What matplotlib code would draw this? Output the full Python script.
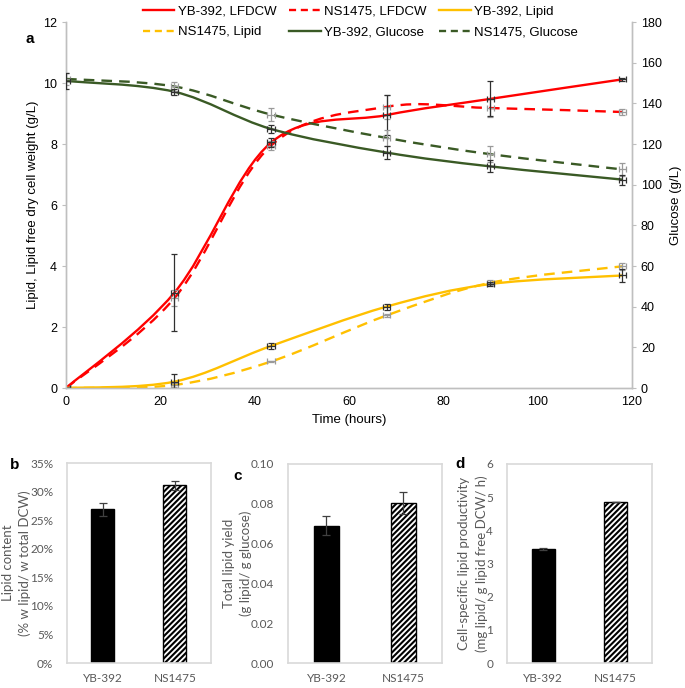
import numpy as np
import matplotlib
matplotlib.use("Agg")
import matplotlib.pyplot as plt
from matplotlib.path import Path
from matplotlib.patches import PathPatch
from matplotlib.lines import Line2D

# ---------------- data ----------------
time_h = [0, 23, 43.5, 68, 90, 118]
yb_lfdcw = [0, 3.13, 8.05, 8.95, 9.48, 10.12]
ns_lfdcw = [0, 2.95, 7.95, 9.22, 9.18, 9.05]
yb_lipid = [0, 0.21, 1.38, 2.67, 3.41, 3.69]
ns_lipid = [0, 0.10, 0.87, 2.38, 3.45, 3.99]
yb_glucose = [151, 145.7, 127.4, 115.8, 109.0, 102.5]
ns_glucose = [152, 148.3, 134.5, 123.0, 115.0, 107.5]

yb_lfdcw_err = [0, 1.26, 0.15, 0.65, 0.57, 0.05]
ns_lfdcw_err = [0, 0.25, 0.15, 0.40, 0.30, 0.10]
yb_lipid_err = [0, 0.25, 0.10, 0.10, 0.05, 0.20]
ns_lipid_err = [0, 0.05, 0.03, 0.05, 0.08, 0.12]
yb_glucose_err = [4, 1.5, 2.0, 3.0, 3.0, 2.5]
ns_glucose_err = [3, 2.0, 3.0, 4.0, 4.0, 3.0]
time_err = 0.8

strains = ["YB-392", "NS1475"]
lipid_content = [26.9, 31.1]
lipid_content_err = [1.1, 0.75]
lipid_yield = [0.069, 0.0805]
lipid_yield_err = [0.0048, 0.0054]
lipid_productivity = [3.44, 4.85]
lipid_productivity_err = [0.02, 0.0]

# ---------------- style ----------------
RED = "#FF0000"
YEL = "#FFC000"
GRN = "#3A5A25"
ERR_DARK = "#303030"
ERR_LIGHT = "#9A9A9A"
AXGREY = "#BFBFBF"
main_font = "Liberation Sans"
bar_font = "Lato"

fig = plt.figure(figsize=(6.85, 6.88), dpi=100)


def smooth_path(x, y):
    x = np.asarray(x, float)
    y = np.asarray(y, float)
    P = np.column_stack([x, y])
    n = len(P)
    verts = [P[0]]
    codes = [Path.MOVETO]
    for i in range(n - 1):
        p0 = P[i - 1] if i > 0 else P[i]
        p1 = P[i]
        p2 = P[i + 1]
        p3 = P[i + 2] if i + 2 < n else P[i + 1]
        c1 = p1 + (p2 - p0) / 6.0
        c2 = p2 - (p3 - p1) / 6.0
        verts += [c1, c2, p2]
        codes += [Path.CURVE4] * 3
    return Path(verts, codes)


def draw_curve(ax, x, y, color, ls):
    patch = PathPatch(smooth_path(x, y), facecolor="none", edgecolor=color,
                      lw=1.7, linestyle=ls, capstyle="butt", zorder=3)
    ax.add_patch(patch)


dash = (0, (4.5, 3))

# ---------------- panel a ----------------
ax = fig.add_axes([0.0964, 0.436, 0.826, 0.532])
ax2 = ax.twinx()
ax.set_xlim(0, 120)
ax.set_ylim(0, 12)
ax2.set_ylim(0, 180)

for a in (ax, ax2):
    a.spines["top"].set_visible(False)
    for s in ("left", "right", "bottom"):
        a.spines[s].set_color(AXGREY)
        a.spines[s].set_linewidth(1.0)

ax.set_xticks(np.arange(0, 121, 20))
ax.set_yticks(np.arange(0, 13, 2))
ax2.set_yticks(np.arange(0, 181, 20))
ax.tick_params(axis="x", length=0, pad=6, labelsize=9)
ax.tick_params(axis="y", length=3, color=AXGREY, labelsize=9)
ax2.tick_params(axis="y", length=3, color=AXGREY, labelsize=9)
for lab in ax.get_xticklabels() + ax.get_yticklabels() + ax2.get_yticklabels():
    lab.set_fontfamily(main_font)

draw_curve(ax, time_h, yb_lfdcw, RED, "-")
draw_curve(ax, time_h, ns_lfdcw, RED, dash)
draw_curve(ax, time_h, yb_lipid, YEL, "-")
draw_curve(ax, time_h, ns_lipid, YEL, dash)
draw_curve(ax2, time_h, yb_glucose, GRN, "-")
draw_curve(ax2, time_h, ns_glucose, GRN, dash)

ekw = dict(fmt="none", capsize=2.5, elinewidth=0.9, capthick=0.9, zorder=4)
ax.errorbar(time_h, ns_lfdcw, yerr=ns_lfdcw_err, xerr=time_err, ecolor=ERR_LIGHT, **ekw)
ax.errorbar(time_h, yb_lfdcw, yerr=yb_lfdcw_err, xerr=time_err, ecolor=ERR_DARK, **ekw)
ax.errorbar(time_h, ns_lipid, yerr=ns_lipid_err, xerr=time_err, ecolor=ERR_LIGHT, **ekw)
ax.errorbar(time_h, yb_lipid, yerr=yb_lipid_err, xerr=time_err, ecolor=ERR_DARK, **ekw)
ax2.errorbar(time_h, ns_glucose, yerr=ns_glucose_err, xerr=time_err, ecolor=ERR_LIGHT, **ekw)
ax2.errorbar(time_h, yb_glucose, yerr=yb_glucose_err, xerr=time_err, ecolor=ERR_DARK, **ekw)

ax.set_xlabel("Time (hours)", fontfamily=main_font, fontsize=9.5, labelpad=4)
ax.set_ylabel("Lipid, Lipid free dry cell weight (g/L)", fontfamily=main_font,
              fontsize=9.5, labelpad=3)
ax2.set_ylabel("Glucose (g/L)", fontfamily=main_font, fontsize=9.5, labelpad=6)

labels = ["YB-392, LFDCW", "NS1475, LFDCW", "YB-392, Lipid",
          "NS1475, Lipid", "YB-392, Glucose", "NS1475, Glucose"]
styles = [(RED, "-"), (RED, (0, (3, 2))), (YEL, "-"),
          (YEL, (0, (3, 2))), (GRN, "-"), (GRN, (0, (3, 2)))]
handles = [Line2D([], [], color=c, ls=s, lw=1.7) for c, s in styles]
order = [0, 3, 1, 4, 2, 5]
fig.legend([handles[i] for i in order], [labels[i] for i in order], ncol=3,
           loc="upper left", bbox_to_anchor=(0.191, 1.009), frameon=False,
           handlelength=2.4, handletextpad=0.3, columnspacing=0.9,
           labelspacing=0.62, prop={"family": main_font, "size": 9.5})

fig.text(30 / 685, 1 - 39 / 688, "a", fontfamily=main_font, fontweight="bold",
         fontsize=11, ha="center", va="center")

# ---------------- bar panels ----------------
def bar_panel(rect, vals, errs, ylim, yticks, fmt, ylabel, letter, letter_pos):
    bx = fig.add_axes(rect)
    xs = np.arange(len(strains))
    bars = bx.bar(xs, vals, width=0.32, color=["black", "white"],
                  edgecolor="black", linewidth=1.0, zorder=2)
    bars[1].set_hatch("//////")
    bx.errorbar(xs, vals, yerr=errs, fmt="none", ecolor="#404040",
                capsize=3, elinewidth=0.9, capthick=0.9, zorder=3)
    bx.set_xlim(-0.5, 1.5)
    bx.set_ylim(*ylim)
    bx.set_yticks(yticks)
    bx.set_yticklabels([fmt(v) for v in yticks])
    bx.set_xticks(xs)
    bx.set_xticklabels(strains)
    bx.tick_params(length=0, labelsize=8.5, labelcolor="#595959")
    bx.tick_params(axis="y", pad=10)
    bx.tick_params(axis="x", pad=7)
    for lab in bx.get_xticklabels() + bx.get_yticklabels():
        lab.set_fontfamily(bar_font)
    for s in bx.spines.values():
        s.set_color("#D9D9D9")
        s.set_linewidth(1.2)
    bx.set_ylabel(ylabel, fontfamily=bar_font, fontsize=9.5, color="#595959",
                  linespacing=1.45, labelpad=-1)
    fig.text(letter_pos[0] / 685, 1 - letter_pos[1] / 688, letter,
             fontfamily=main_font, fontweight="bold", fontsize=11,
             ha="center", va="center")
    return bx


plt.rcParams["hatch.linewidth"] = 1.5

bar_panel([0.0978, 0.0363, 0.210, 0.2907], lipid_content, lipid_content_err,
          (0, 35), np.arange(0, 36, 5), lambda v: f"{v:.0f}%",
          "Lipid content\n(% w lipid/ w total DCW)", "b", (15, 465))
bar_panel([0.4204, 0.0363, 0.2248, 0.2893], lipid_yield, lipid_yield_err,
          (0, 0.10), np.arange(0, 0.101, 0.02), lambda v: f"{v:.2f}",
          "Total lipid yield\n(g lipid/ g glucose)", "c", (238, 476))
bar_panel([0.740, 0.0363, 0.2117, 0.2893], lipid_productivity, lipid_productivity_err,
          (0, 6), np.arange(0, 7, 1), lambda v: f"{v:.0f}",
          "Cell-specific lipid productivity\n(mg lipid/ g lipid free DCW/ h)", "d", (460, 464))

fig.savefig("out.png", dpi=100)
